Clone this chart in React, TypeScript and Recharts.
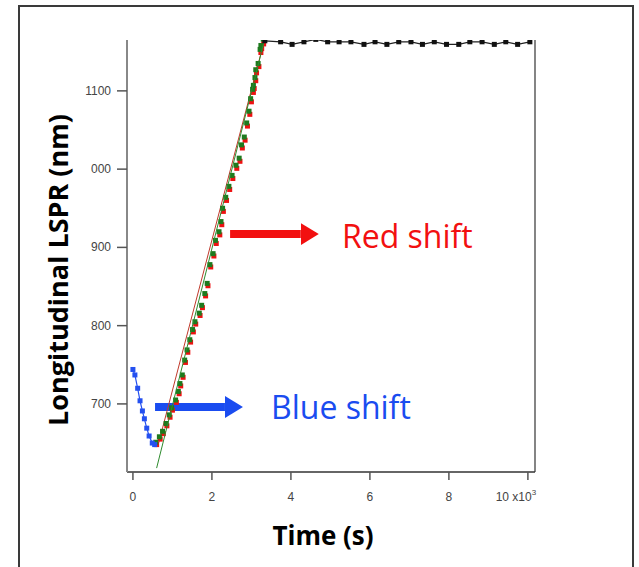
import { ComposedChart, Scatter, XAxis, YAxis, ReferenceLine } from "recharts"

const blueX = [0, 0.05, 0.12, 0.18, 0.24, 0.29, 0.35, 0.41, 0.49, 0.55]
const blueY = [744, 737, 720, 704, 691, 681, 669, 659, 650, 648]

const greenX = [0.58, 0.67, 0.75, 0.84, 0.92, 0.98, 1.08, 1.15, 1.19, 1.25, 1.31, 1.37, 1.44, 1.51, 1.57, 1.68, 1.74, 1.82, 1.88, 1.95, 2.03, 2.09, 2.18, 2.23, 2.27, 2.35, 2.43, 2.51, 2.61, 2.69, 2.75, 2.82, 2.88, 2.94, 2.98, 3.03, 3.05, 3.09, 3.11, 3.17, 3.22, 3.24, 3.3]
const greenY = [651, 658, 665, 675, 686, 695, 705, 716, 726, 737, 756, 769, 782, 795, 805, 816, 826, 841, 854, 878, 892, 909, 920, 933, 950, 964, 978, 992, 1005, 1014, 1031, 1041, 1059, 1074, 1090, 1102, 1107, 1117, 1127, 1135, 1153, 1158, 1166]

const redX = [0.6, 0.69, 0.77, 0.86, 0.94, 1.0, 1.1, 1.17, 1.21, 1.27, 1.33, 1.39, 1.46, 1.53, 1.59, 1.7, 1.76, 1.84, 1.9, 1.97, 2.05, 2.11, 2.2, 2.25, 2.29, 2.37, 2.45, 2.53, 2.63, 2.71, 2.77, 2.84, 2.9, 2.96, 3.0, 3.05, 3.07, 3.11, 3.13, 3.19, 3.24, 3.26, 3.31]
const redY = [648, 655, 662, 672, 683, 692, 702, 713, 723, 734, 753, 766, 779, 792, 802, 813, 823, 838, 851, 875, 889, 905, 916, 929, 946, 960, 974, 988, 1001, 1010, 1027, 1037, 1055, 1070, 1086, 1098, 1103, 1113, 1123, 1131, 1149, 1154, 1160]

const blackX = [3.34, 3.74, 4.03, 4.33, 4.63, 4.93, 5.22, 5.52, 5.85, 6.13, 6.43, 6.73, 7.04, 7.33, 7.63, 7.94, 8.25, 8.53, 8.84, 9.15, 9.44, 9.74, 10.05]
const blackY = [1164, 1162.7, 1159.4, 1162.7, 1165.8, 1162.7, 1162.7, 1162.7, 1159.4, 1162.7, 1159.4, 1162.7, 1162.7, 1159.4, 1162.7, 1159.4, 1159.4, 1162.7, 1162.7, 1159.4, 1162.7, 1159.4, 1162.7]

const greenFitX = [0.6, 3.33]
const greenFitY = [618, 1165]
const redFitX = [0.64, 3.31]
const redFitY = [648, 1161]

const xTicks = [0, 2, 4, 6, 8, 10]
const yTicks = [700, 800, 900, 1000, 1100]
const yTickLabels = ["700", "800", "900", "000", "1100"]

const xDomain = [-0.15, 10.18]
const yDomain = [613, 1165]

const zip = (xs: number[], ys: number[]) => xs.map((x, i) => ({ x, y: ys[i] }))

const blueData = zip(blueX, blueY)
const greenData = zip(greenX, greenY)
const redData = zip(redX, redY)
const blackData = zip(blackX, blackY)
const greenFit = zip(greenFitX, greenFitY)
const redFit = zip(redFitX, redFitY)

const noDot = () => <g />
const square = (fill: string, s: number) => (props: any) => (
  <rect x={props.cx - s / 2} y={props.cy - s / 2} width={s} height={s} fill={fill} />
)

const XTick = (props: any) => {
  const { x, y, payload } = props
  if (payload.value === 10) {
    return (
      <text x={x - 12} y={y + 19} fill="#444" fontSize={12} fontFamily="Liberation Sans" textAnchor="middle">
        10 x10<tspan dy={-6} fontSize={8}>3</tspan>
      </text>
    )
  }
  return (
    <text x={x} y={y + 19} fill="#444" fontSize={12} fontFamily="Liberation Sans" textAnchor="middle">
      {payload.value}
    </text>
  )
}

const YTick = (props: any) => {
  const { x, y, payload } = props
  const i = yTicks.indexOf(payload.value)
  return (
    <text x={x - 4} y={y + 4} fill="#444" fontSize={12} fontFamily="Liberation Sans" textAnchor="end">
      {yTickLabels[i]}
    </text>
  )
}

export default function App() {
  return (
    <div style={{ position: "absolute", left: 0, top: 0, width: 639, height: 567, overflow: "hidden", background: "#fff" }}>
      <svg width={0} height={0} style={{ position: "absolute" }}>
        <defs>
          <marker id="headBlue" markerUnits="userSpaceOnUse" markerWidth={18} markerHeight={22} refX={0} refY={11} orient="auto">
            <path d="M0,0 L18,11 L0,22 z" fill="#1a4cf0" />
          </marker>
          <marker id="headRed" markerUnits="userSpaceOnUse" markerWidth={18} markerHeight={22} refX={0} refY={11} orient="auto">
            <path d="M0,0 L18,11 L0,22 z" fill="#f21010" />
          </marker>
        </defs>
      </svg>
      <div style={{ position: "absolute", left: 18, top: 5, width: 612, height: 600, border: "2px solid #3a3a3a" }} />
      <div style={{ position: "absolute", left: 0, top: 0 }}>
        <ComposedChart width={639} height={567} margin={{ top: 40, right: 104, bottom: 65, left: 67 }}>
          <XAxis
            type="number"
            dataKey="x"
            domain={xDomain}
            ticks={xTicks}
            allowDataOverflow
            height={30}
            stroke="#333"
            strokeWidth={1.5}
            tickSize={8}
            tick={<XTick />}
            tickLine={{ stroke: "#555", strokeWidth: 1.5 }}
          />
          <YAxis
            type="number"
            dataKey="y"
            domain={yDomain}
            ticks={yTicks}
            allowDataOverflow
            width={60}
            stroke="#888"
            strokeWidth={2}
            tickSize={10}
            tick={<YTick />}
            tickLine={{ stroke: "#555", strokeWidth: 1.5 }}
          />
          <ReferenceLine x={xDomain[1]} stroke="#333" strokeWidth={1.2} />
          <Scatter data={redFit} line={{ stroke: "#c0392b", strokeWidth: 1 }} shape={noDot} isAnimationActive={false} />
          <Scatter data={redData} fill="#ee1111" shape={square("#ee1111", 5)} isAnimationActive={false} />
          <Scatter data={greenData} fill="#1e7a1e" shape={square("#1e7a1e", 5)} isAnimationActive={false} />
          <Scatter data={greenFit} line={{ stroke: "#2e8b2e", strokeWidth: 1 }} shape={noDot} isAnimationActive={false} />
          <Scatter data={blueData} fill="#2450f0" shape={square("#2450f0", 5)} line={{ stroke: "#2450f0", strokeWidth: 1.2 }} isAnimationActive={false} />
          <Scatter data={blackData} fill="#111" shape={square("#111", 5)} line={{ stroke: "#222", strokeWidth: 1.2 }} isAnimationActive={false} />
          <ReferenceLine
            segment={[{ x: 0.56, y: 696 }, { x: 2.33, y: 696 }]}
            stroke="#1a4cf0"
            strokeWidth={8}
            markerEnd="url(#headBlue)"
          />
          <ReferenceLine
            segment={[{ x: 2.46, y: 917 }, { x: 4.25, y: 917 }]}
            stroke="#f21010"
            strokeWidth={8}
            markerEnd="url(#headRed)"
          />
        </ComposedChart>
      </div>
      <div style={{ position: "absolute", left: 271, top: 387, color: "#1a4cf0", fontFamily: "Open Sans", fontSize: 32, lineHeight: "40px", whiteSpace: "nowrap" }}>
        Blue shift
      </div>
      <div style={{ position: "absolute", left: 342, top: 216, color: "#f21010", fontFamily: "Open Sans", fontSize: 32, lineHeight: "40px", whiteSpace: "nowrap" }}>
        Red shift
      </div>
      <div style={{ position: "absolute", left: 323, top: 535, transform: "translate(-50%, -50%)", fontFamily: "Open Sans", fontWeight: 700, fontSize: 26, whiteSpace: "nowrap" }}>
        Time (s)
      </div>
      <div style={{ position: "absolute", left: 57, top: 270, transform: "translate(-50%, -50%) rotate(-90deg)", fontFamily: "Open Sans", fontWeight: 700, fontSize: 27, whiteSpace: "nowrap" }}>
        Longitudinal LSPR (nm)
      </div>
    </div>
  )
}
